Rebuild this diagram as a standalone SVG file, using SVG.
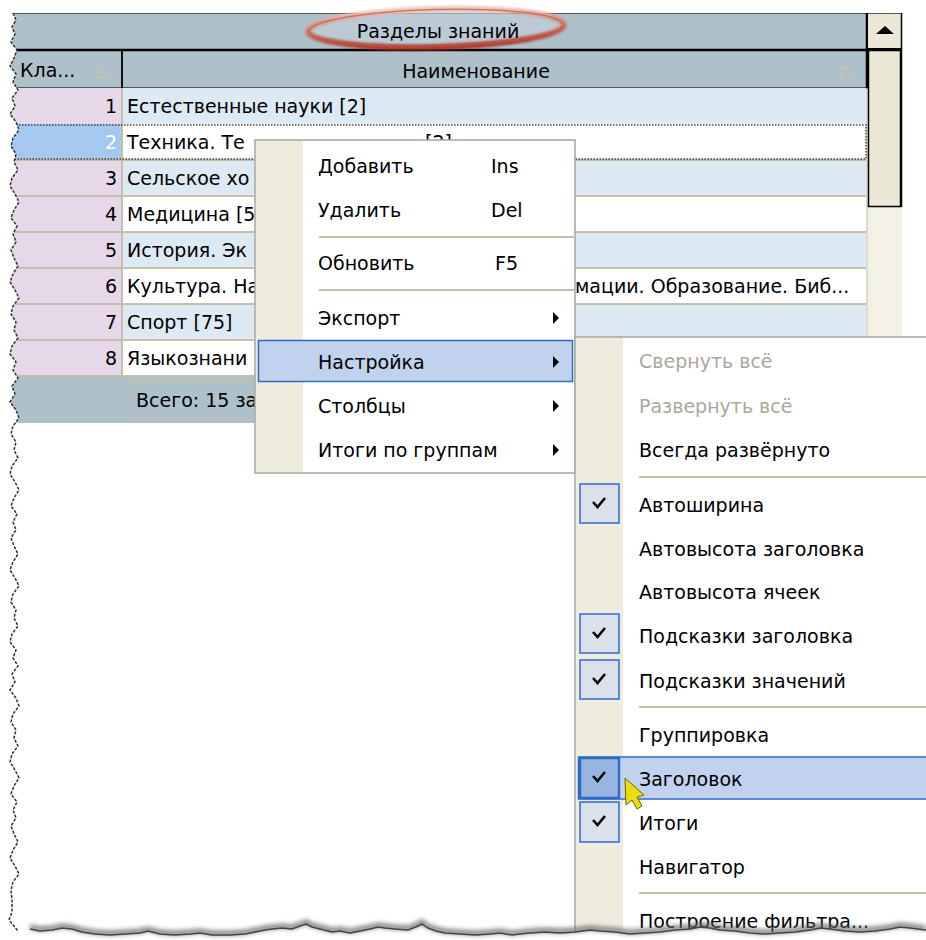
<svg xmlns="http://www.w3.org/2000/svg" width="926" height="940" viewBox="0 0 926 940">
<defs>
<style>
.t{font-family:"DejaVu Sans","Liberation Sans",sans-serif;font-size:19px;fill:#000}
.w{fill:#fff}
.d{fill:#aca899}
.gl{stroke:#c5bead;stroke-width:2}
.sep{stroke:#aca899;stroke-width:1.5}
.hl{fill:#c1d2ee;stroke:#316ac5;stroke-width:1.5}
.cb{fill:#dbe1ea;stroke:#316ac5;stroke-width:1.5}
.cbh{fill:#98b4e0;stroke:#316ac5;stroke-width:2.5}
.ck{fill:none;stroke:#000;stroke-width:2.6}
.tri{fill:none;stroke:#c8c0b0;stroke-width:1.5}
.band{fill:#aec1cb}
.pink{fill:#e6d7e9}
.lb{fill:#dde9f3}
</style>
<pattern id="chk" width="2" height="2" patternUnits="userSpaceOnUse">
<rect width="2" height="2" fill="#fbfaf5"/>
<rect width="1" height="1" fill="#ebe8d7"/>
<rect x="1" y="1" width="1" height="1" fill="#ebe8d7"/>
</pattern>
<linearGradient id="ring" x1="0" y1="0" x2="0" y2="1">
<stop offset="0" stop-color="#ecc8c0"/>
<stop offset="0.5" stop-color="#cf7a6c"/>
<stop offset="1" stop-color="#a83528"/>
</linearGradient>
<filter id="blur1" x="-10%" y="-50%" width="120%" height="200%"><feGaussianBlur stdDeviation="1.3"/></filter>
<filter id="blur2" x="-5%" y="-200%" width="110%" height="500%"><feGaussianBlur stdDeviation="2"/></filter>
</defs>
<rect width="926" height="940" fill="#fff"/>

<g id="grid">
<rect class="band" x="0" y="13" width="868" height="37"/>
<rect class="band" x="0" y="51" width="868" height="37"/>
<line x1="0" y1="13.5" x2="902" y2="13.5" stroke="#555" stroke-width="1"/>
<line x1="0" y1="50" x2="868" y2="50" stroke="#000" stroke-width="2.5"/>
<line x1="0" y1="88" x2="868" y2="88" stroke="#333" stroke-width="1.5"/>
<line x1="122" y1="51" x2="122" y2="88" stroke="#111" stroke-width="2"/>
<line x1="867" y1="13" x2="867" y2="88" stroke="#000" stroke-width="2.5"/>
<g id="title">
<ellipse cx="436" cy="28" rx="127" ry="18" fill="#c3d0da" opacity="0.6"/>
<ellipse cx="436" cy="28" rx="128" ry="19" fill="none" stroke="url(#ring)" stroke-width="6" filter="url(#blur1)" transform="rotate(-1.5 436 28)"/>
<ellipse cx="436" cy="28" rx="127" ry="18.5" fill="none" stroke="#c05848" stroke-width="1.5" opacity="0.7" transform="rotate(-1.5 436 28)"/>
<text class="t" x="438" y="38" text-anchor="middle">Разделы знаний</text>
</g>
<text class="t" x="20" y="77">Кла...</text>
<path class="tri" d="M97,77 L102,68 L107,77 Z"/>
<text class="t" x="476" y="78" text-anchor="middle">Наименование</text>
<path class="tri" d="M840,77 L846,66 L852,77 Z"/>

<rect class="pink" x="0" y="88" width="122" height="288"/>
<rect class="lb" x="122" y="88" width="744" height="36"/>
<rect fill="#a6c8f0" x="0" y="124" width="122" height="36"/>
<rect fill="#fff" x="122" y="124" width="744" height="36"/>
<rect class="lb" x="122" y="160" width="744" height="36"/>
<rect fill="#fff" x="122" y="196" width="744" height="36"/>
<rect class="lb" x="122" y="232" width="744" height="36"/>
<rect fill="#fff" x="122" y="268" width="744" height="36"/>
<rect class="lb" x="122" y="304" width="744" height="36"/>
<rect fill="#fff" x="122" y="340" width="744" height="36"/>
<line class="gl" x1="0" y1="160" x2="866" y2="160"/>
<line class="gl" x1="0" y1="196" x2="866" y2="196"/>
<line class="gl" x1="0" y1="232" x2="866" y2="232"/>
<line class="gl" x1="0" y1="268" x2="866" y2="268"/>
<line class="gl" x1="0" y1="304" x2="866" y2="304"/>
<line class="gl" x1="0" y1="340" x2="866" y2="340"/>
<line class="gl" x1="0" y1="376" x2="866" y2="376"/>
<line class="gl" x1="122" y1="88" x2="122" y2="376"/>
<line x1="867" y1="88" x2="867" y2="376" stroke="#b8b4a8" stroke-width="1"/>
<rect x="1" y="125" width="865" height="34" fill="none" stroke="#444" stroke-width="1.5" stroke-dasharray="1.5 1.5"/>

<text class="t" x="117" y="113" text-anchor="end">1</text>
<text class="t w" x="117" y="149" text-anchor="end">2</text>
<text class="t" x="117" y="185" text-anchor="end">3</text>
<text class="t" x="117" y="221" text-anchor="end">4</text>
<text class="t" x="117" y="257" text-anchor="end">5</text>
<text class="t" x="117" y="293" text-anchor="end">6</text>
<text class="t" x="117" y="329" text-anchor="end">7</text>
<text class="t" x="117" y="365" text-anchor="end">8</text>
<text class="t" x="127" y="113">Естественные науки [2]</text>
<text class="t" x="127" y="149">Техника. Те</text>
<text class="t" x="425" y="149">[2]</text>
<text class="t" x="127" y="185">Сельское хо</text>
<text class="t" x="127" y="221">Медицина [5</text>
<text class="t" x="127" y="257">История. Эк</text>
<text class="t" x="127" y="293">Культура. На</text>
<text class="t" x="575" y="293">мации. Образование. Биб...</text>
<text class="t" x="127" y="329">Спорт [75]</text>
<text class="t" x="127" y="365">Языкознани</text>

<rect class="band" x="0" y="377" width="868" height="46"/>
<rect x="128.5" y="382.5" width="200" height="37" fill="none" stroke="#c5bead" stroke-width="1.5"/>
<text class="t" x="136" y="407">Всего: 15 за</text>
</g>

<g id="scrollbar">
<rect x="868" y="14" width="33" height="34" fill="#ebe8d7"/>
<path d="M876,34 L885,26 L894,34 Z" fill="#000"/>
<line x1="868" y1="49" x2="902" y2="49" stroke="#000" stroke-width="2"/>
<rect x="868" y="207" width="34" height="129" fill="url(#chk)"/>
<rect x="868.5" y="50.5" width="32" height="156" fill="#ebe8d7" stroke="#000" stroke-width="1.5"/>
<line x1="901.5" y1="13" x2="901.5" y2="207" stroke="#000" stroke-width="1.5"/>
</g>

<g id="menu">
<rect x="255" y="140" width="320" height="333" fill="#fff" stroke="#a7a59a" stroke-width="1.5"/>
<rect x="256" y="141" width="47" height="331" fill="#eeecdf"/>
<rect class="hl" x="258.5" y="340.5" width="314" height="41"/>
<line class="sep" x1="319" y1="237" x2="574" y2="237"/>
<line class="sep" x1="319" y1="290" x2="574" y2="290"/>
<text class="t" x="318" y="173">Добавить</text>
<text class="t" x="491" y="173">Ins</text>
<text class="t" x="318" y="217">Удалить</text>
<text class="t" x="491" y="217">Del</text>
<text class="t" x="318" y="270">Обновить</text>
<text class="t" x="495" y="270">F5</text>
<text class="t" x="318" y="325">Экспорт</text>
<text class="t" x="318" y="369">Настройка</text>
<text class="t" x="318" y="413">Столбцы</text>
<text class="t" x="318" y="457">Итоги по группам</text>
<path d="M553,312 L559,318 L553,324 Z"/>
<path d="M553,356 L559,362 L553,368 Z"/>
<path d="M553,400 L559,406 L553,412 Z"/>
<path d="M553,444 L559,450 L553,456 Z"/>
</g>

<g id="submenu">
<rect x="575" y="337" width="360" height="620" fill="#fff" stroke="#a7a59a" stroke-width="1.5"/>
<rect x="576" y="338" width="47" height="610" fill="#eeecdf"/>
<line class="sep" x1="639" y1="477" x2="926" y2="477"/>
<line class="sep" x1="639" y1="707" x2="926" y2="707"/>
<line class="sep" x1="639" y1="893" x2="926" y2="893"/>
<rect class="hl" x="578.5" y="757" width="350" height="42"/>
<rect class="cb" x="580" y="484" width="39" height="39"/>
<rect class="cb" x="580" y="614" width="39" height="39"/>
<rect class="cb" x="580" y="660" width="39" height="39"/>
<rect class="cbh" x="580" y="758" width="39" height="40"/>
<rect class="cb" x="580" y="802" width="39" height="40"/>
<path class="ck" d="M593,502 L597.5,507 L605,498"/>
<path class="ck" d="M593,632 L597.5,637 L605,628"/>
<path class="ck" d="M593,678 L597.5,683 L605,674"/>
<path class="ck" d="M593,776 L597.5,781 L605,772"/>
<path class="ck" d="M593,820 L597.5,825 L605,816"/>
<text class="t d" x="639" y="368">Свернуть всё</text>
<text class="t d" x="639" y="413">Развернуть всё</text>
<text class="t" x="639" y="457">Всегда развёрнуто</text>
<text class="t" x="639" y="512">Автоширина</text>
<text class="t" x="639" y="556">Автовысота заголовка</text>
<text class="t" x="639" y="599">Автовысота ячеек</text>
<text class="t" x="639" y="643">Подсказки заголовка</text>
<text class="t" x="639" y="688">Подсказки значений</text>
<text class="t" x="639" y="742">Группировка</text>
<text class="t" x="639" y="786">Заголовок</text>
<text class="t" x="639" y="830">Итоги</text>
<text class="t" x="639" y="874">Навигатор</text>
<text class="t" x="639" y="928">Построение фильтра...</text>
</g>

<g id="cursor">
<path d="M625,778 L644,795 L637,797 L642,806 L637,809 L632,800 L626,805 Z" fill="#e8de12" stroke="#6a6400" stroke-width="1"/>
</g>

<g id="torn-edges">
<path fill="#fff" d="M0,0 L13,0 L13,13 L16,20 L12,27 L15,34 L11,42 L17,50 L14,58 L10,66 L16,74 L13,82 L18,90 L12,98 L15,106 L10,114 L16,122 L19,130 L13,138 L11,146 L16,154 L14,162 L18,170 L12,178 L10,186 L15,194 L19,202 L14,210 L11,218 L17,226 L13,234 L16,242 L11,250 L14,258 L18,266 L13,274 L10,282 L15,290 L19,298 L13,306 L11,314 L16,322 L14,330 L18,338 L12,346 L10,354 L16,362 L13,370 L18,378 L12,386 L15,394 L10,402 L16,410 L19,418 L13,426 L11,434 L16,442 L14,450 L18,458 L12,466 L10,474 L15,482 L19,490 L14,498 L11,506 L17,514 L13,522 L16,530 L11,538 L14,546 L18,554 L13,562 L10,570 L15,578 L19,586 L13,594 L11,602 L16,610 L14,618 L18,626 L12,634 L10,642 L16,650 L13,658 L18,666 L12,674 L15,682 L10,690 L16,698 L19,706 L13,714 L11,722 L16,730 L14,738 L18,746 L12,754 L10,762 L15,770 L19,778 L14,786 L11,794 L17,802 L13,810 L16,818 L11,826 L14,834 L18,842 L13,850 L10,858 L15,866 L19,874 L13,882 L11,890 L12,900 L12,912 L9,920 L14,926 L18,931 L30,929 L40,931 L52,930 L62,928 L72,929 L82,932 L95,934 L110,935 L125,934 L140,933 L148,931 L160,934 L175,935 L190,934 L200,933 L212,935 L230,935 L245,934 L255,932 L265,930 L272,929 L282,928 L292,929 L300,926 L306,924 L312,927 L320,929 L332,932 L340,931 L350,933 L360,931 L370,929 L378,927 L385,928 L395,929 L408,930 L418,926 L422,924 L428,928 L436,931 L445,933 L460,934 L475,935 L490,934 L500,933 L512,935 L520,934 L530,933 L545,932 L560,933 L575,932 L590,930 L600,931 L615,932 L630,934 L645,933 L660,932 L675,930 L690,929 L700,927 L710,928 L720,930 L735,931 L750,933 L765,934 L780,933 L795,932 L810,930 L820,928 L830,929 L845,931 L860,932 L875,931 L890,929 L900,927 L910,928 L926,930 L926,940 L0,940 Z"/>
<path fill="none" stroke="#666" stroke-width="5" opacity="0.8" filter="url(#blur2)" d="M30,927 L40,929 L52,928 L62,926 L72,927 L82,930 L95,932 L110,933 L125,932 L140,931 L148,929 L160,932 L175,933 L190,932 L200,931 L212,933 L230,933 L245,932 L255,930 L265,928 L272,927 L282,926 L292,927 L300,924 L306,922 L312,925 L320,927 L332,930 L340,929 L350,931 L360,929 L370,927 L378,925 L385,926 L395,927 L408,928 L418,924 L422,922 L428,926 L436,929 L445,931 L460,932 L475,933 L490,932 L500,931 L512,933 L520,932 L530,931 L545,930 L560,931 L575,930 L590,928 L600,929 L615,930 L630,932 L645,931 L660,930 L675,928 L690,927 L700,925 L710,926 L720,928 L735,929 L750,931 L765,932 L780,931 L795,930 L810,928 L820,926 L830,927 L845,929 L860,930 L875,929 L890,927 L900,925 L910,926 L926,928"/>
<path fill="none" stroke="#333" stroke-width="1.5" stroke-dasharray="3 1.5" d="M13,13 L16,20 L12,27 L15,34 L11,42 L17,50 L14,58 L10,66 L16,74 L13,82 L18,90 L12,98 L15,106 L10,114 L16,122 L19,130 L13,138 L11,146 L16,154 L14,162 L18,170 L12,178 L10,186 L15,194 L19,202 L14,210 L11,218 L17,226 L13,234 L16,242 L11,250 L14,258 L18,266 L13,274 L10,282 L15,290 L19,298 L13,306 L11,314 L16,322 L14,330 L18,338 L12,346 L10,354 L16,362 L13,370 L18,378 L12,386 L15,394 L10,402 L16,410 L19,418 L13,426 L11,434 L16,442 L14,450 L18,458 L12,466 L10,474 L15,482 L19,490 L14,498 L11,506 L17,514 L13,522 L16,530 L11,538 L14,546 L18,554 L13,562 L10,570 L15,578 L19,586 L13,594 L11,602 L16,610 L14,618 L18,626 L12,634 L10,642 L16,650 L13,658 L18,666 L12,674 L15,682 L10,690 L16,698 L19,706 L13,714 L11,722 L16,730 L14,738 L18,746 L12,754 L10,762 L15,770 L19,778 L14,786 L11,794 L17,802 L13,810 L16,818 L11,826 L14,834 L18,842 L13,850 L10,858 L15,866 L19,874 L13,882 L11,890 L12,900 L12,912 L9,920 L14,926 L18,931"/>
<path fill="none" stroke="#444" stroke-width="1.5" d="M30,929 L40,931 L52,930 L62,928 L72,929 L82,932 L95,934 L110,935 L125,934 L140,933 L148,931 L160,934 L175,935 L190,934 L200,933 L212,935 L230,935 L245,934 L255,932 L265,930 L272,929 L282,928 L292,929 L300,926 L306,924 L312,927 L320,929 L332,932 L340,931 L350,933 L360,931 L370,929 L378,927 L385,928 L395,929 L408,930 L418,926 L422,924 L428,928 L436,931 L445,933 L460,934 L475,935 L490,934 L500,933 L512,935 L520,934 L530,933 L545,932 L560,933 L575,932 L590,930 L600,931 L615,932 L630,934 L645,933 L660,932 L675,930 L690,929 L700,927 L710,928 L720,930 L735,931 L750,933 L765,934 L780,933 L795,932 L810,930 L820,928 L830,929 L845,931 L860,932 L875,931 L890,929 L900,927 L910,928 L926,930"/>
</g>
</svg>
